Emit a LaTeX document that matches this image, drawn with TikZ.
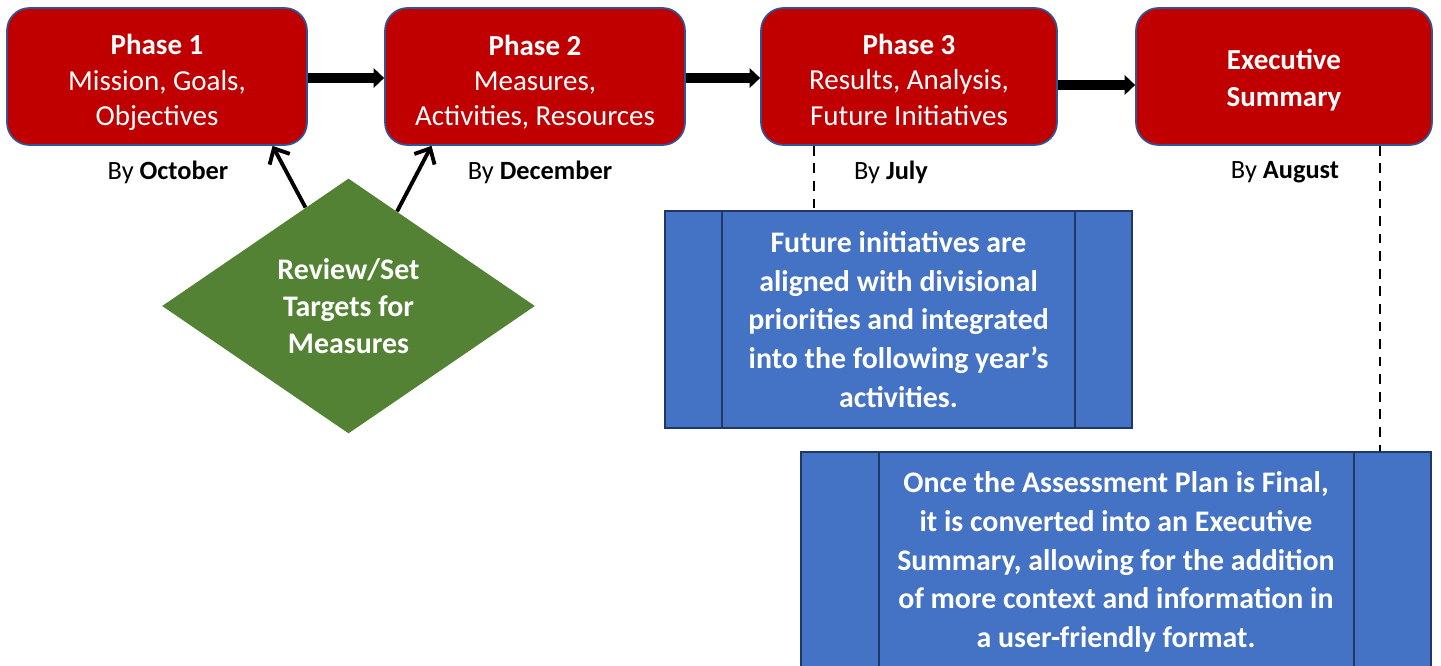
\documentclass[tikz,border=0pt]{standalone}
\usepackage{fontspec}
\setmainfont{Carlito}
\usetikzlibrary{arrows.meta,shapes.geometric,calc}

\definecolor{phasered}{HTML}{C00000}
\definecolor{phaseline}{HTML}{2F5597}
\definecolor{notefill}{HTML}{4472C4}
\definecolor{noteline}{HTML}{1F3864}
\definecolor{reviewgreen}{HTML}{548235}

\tikzset{
    phase/.style={draw=phaseline, line width=1pt, fill=phasered, rounded corners=0.45cm,
        minimum height=2.74cm, text=white, align=center, inner sep=0pt,
        font=\fontsize{16.5}{20}\selectfont},
    note/.style={draw=noteline, line width=1.2pt, fill=notefill, text=white,
        align=center, inner sep=0pt, font=\fontsize{17}{22}\selectfont\bfseries},
    flow/.style={line width=5.5pt, -{Triangle[length=6pt,width=11pt]}},
    feed/.style={line width=2.2pt, -{Straight Barb[length=7pt,width=13pt]}},
    dashline/.style={line width=1.1pt, dash pattern=on 5.5pt off 4.5pt},
}

\begin{document}
\begin{tikzpicture}[x=0.02cm, y=-0.02cm]
    \useasboundingbox (0,0) rectangle (1441,666);

    % phases
    \node[phase, minimum width=6cm] (p1) at (157,76.5)
        {\rule{0pt}{0.64cm}\textbf{Phase 1}\\Mission, Goals,\\Objectives};
    \node[phase, minimum width=6cm] (p2) at (535,76.5)
        {\rule{0pt}{0.64cm}\textbf{Phase 2}\\Measures,\\Activities, Resources};
    \node[phase, minimum width=5.92cm] (p3) at (909,76.5)
        {\rule{0pt}{0.54cm}\textbf{Phase 3}\\Results, Analysis,\\Future Initiatives};
    \node[phase, minimum width=5.92cm, font=\fontsize{16.5}{21}\selectfont] (p4) at (1284,76.5)
        {\rule{0pt}{0.54cm}\textbf{Executive}\\\textbf{Summary}};

    \draw[flow] ([yshift=-0.03cm]p1.east) -- ([yshift=-0.03cm]p2.west);
    \draw[flow] ([yshift=-0.03cm]p2.east) -- ([yshift=-0.03cm]p3.west);
    \draw[flow] ([yshift=-0.17cm]p3.east) -- ([yshift=-0.17cm]p4.west);

    \foreach \x/\m/\n in {168/October/by1, 540/December/by2, 891/July/by3, 1285/August/by4} {
        \node (\n) at (\x,172) {\fontsize{15}{18}\selectfont By \textbf{\m}};
    }

    % review diamond
    \node[diamond, fill=reviewgreen, minimum width=7.46cm, minimum height=5.1cm,
        inner sep=0pt, text=white, align=center,
        font=\fontsize{17}{21}\selectfont\bfseries] (rv) at (348.5,306)
        {Review/Set\\Targets for\\Measures};

    \draw[feed] ($(rv.north)!0.23!(rv.west)$) -- ($(p1.south west)!0.883!(p1.south east)$);
    \draw[feed] ($(rv.north)!0.26!(rv.east)$) -- ($(p2.south west)!0.157!(p2.south east)$);

    % notes
    \node[note, minimum width=9.34cm, minimum height=4.34cm] (n1) at (898.5,319.5)
        {Future initiatives are\\aligned with divisional\\priorities and integrated\\into the following year’s\\activities.};
    \draw[noteline, line width=1.2pt] ([xshift=1.16cm]n1.north west) -- ([xshift=1.16cm]n1.south west);
    \draw[noteline, line width=1.2pt] ([xshift=-1.16cm]n1.north east) -- ([xshift=-1.16cm]n1.south east);

    \node[note, minimum width=12.6cm, minimum height=4.4cm] (n2) at (1116,562)
        {Once the Assessment Plan is Final,\\it is converted into an Executive\\Summary, allowing for the addition\\of more context and information in\\a user-friendly format.};
    \draw[noteline, line width=1.2pt] ([xshift=1.58cm]n2.north west) -- ([xshift=1.58cm]n2.south west);
    \draw[noteline, line width=1.2pt] ([xshift=-1.56cm]n2.north east) -- ([xshift=-1.56cm]n2.south east);

    \draw[dashline] (p3.south -| 814,0) -- (n1.north -| 814,0);
    \draw[dashline] (p4.south -| 1380,0) -- (n2.north -| 1380,0);

\end{tikzpicture}
\end{document}
